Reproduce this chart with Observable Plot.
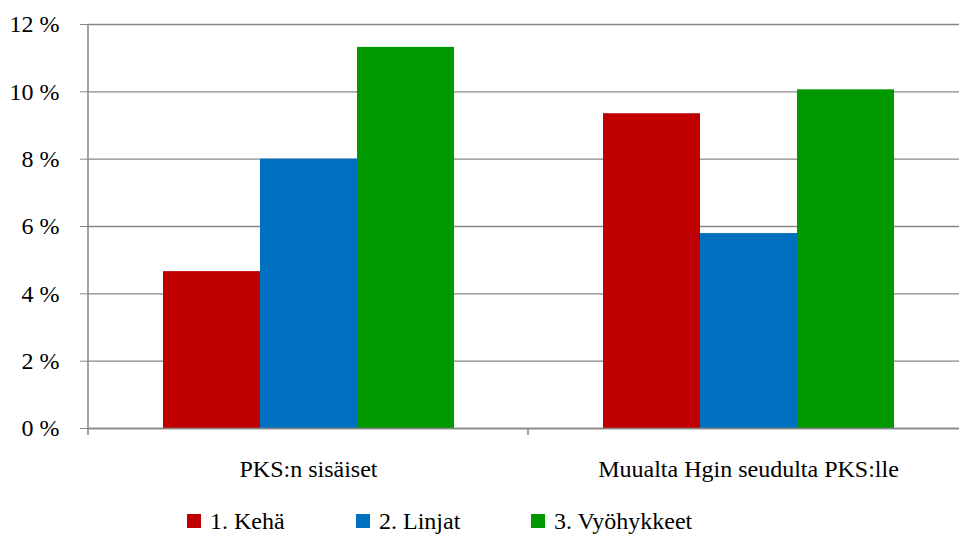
<!DOCTYPE html>
<html>
<head>
<meta charset="utf-8">
<script src="https://cdn.jsdelivr.net/npm/d3@7"></script>
<script src="https://cdn.jsdelivr.net/npm/@observablehq/plot@0.6"></script>
<style>
  html, body { margin: 0; padding: 0; background: #fff; overflow: hidden; }
  #chart svg { display: block; max-width: none !important; }
  #legend { height: 35px; padding-top: 9px; box-sizing: border-box; font-family: "Liberation Serif", "Times New Roman", "DejaVu Serif", "Noto Serif", FreeSerif, serif; font-size: 24px; line-height: 24px; color: #000; white-space: nowrap; }
  .item { display: inline-block; vertical-align: top; }
  .sw { display: inline-block; width: 14px; height: 14px; margin-right: 9px; vertical-align: 1px; }
</style>
</head>
<body>
<div id="chart"></div>
<div id="legend"></div>
<script>
const categories = ["PKS:n sisäiset", "Muualta Hgin seudulta PKS:lle"];
const series = ["1. Kehä", "2. Linjat", "3. Vyöhykkeet"];
const kehaValues = [4.66, 9.35];
const linjatValues = [8.0, 5.79];
const vyohykkeetValues = [11.32, 10.06];
const yTicks = [0, 2, 4, 6, 8, 10, 12];
const colors = ["#C00000", "#0070C0", "#009900"];

const seriesValues = [kehaValues, linjatValues, vyohykkeetValues];
const data = [];
categories.forEach((c, ci) => series.forEach((s, si) => data.push({cat: c, series: s, value: seriesValues[si][ci]})));

const axisColor = "#868686";
const serif = "'Liberation Serif', 'Times New Roman', 'DejaVu Serif', 'Noto Serif', FreeSerif, serif";

const plot = Plot.plot({
  width: 968,
  height: 500,
  marginLeft: 88,
  marginRight: 0,
  marginTop: 24,
  marginBottom: 72,
  style: {fontFamily: serif, fontSize: "24px", color: "#000", background: "#fff", maxWidth: "none"},
  fx: {domain: categories, padding: 0, label: null},
  x: {domain: series, paddingInner: 0, paddingOuter: 0.745, axis: null},
  y: {domain: [0, 12], label: null},
  color: {domain: series, range: colors},
  marks: [
    Plot.gridY(yTicks, {stroke: axisColor, strokeOpacity: 1, strokeWidth: 1.4}),
    Plot.barY(data, {fx: "cat", x: "series", y: "value", fill: "series"}),
    Plot.ruleY([0], {stroke: axisColor, strokeWidth: 1.5}),
    Plot.axisY(yTicks, {tickSize: 8, tickPadding: 21, tickFormat: d => `${d} %`, stroke: axisColor, strokeOpacity: 1, label: null}),
    Plot.axisFx({anchor: "bottom", tickSize: 0, tickPadding: 31, label: null})
  ]
});

// axis line and category boundary ticks, positioned through the plot's scales
const fx = plot.scale("fx");
const y = plot.scale("y");
const g = d3.select(plot).append("g").attr("stroke", axisColor).attr("stroke-width", 1.5);
const x0 = fx.apply(categories[0]);
g.append("line").attr("x1", x0).attr("x2", x0).attr("y1", y.apply(12)).attr("y2", y.apply(0) + 7);
categories.forEach(c => {
  const xb = fx.apply(c) + fx.bandwidth;
  g.append("line").attr("x1", xb).attr("x2", xb).attr("y1", y.apply(0)).attr("y2", y.apply(0) + 7);
});
d3.select(plot).selectAll("text").attr("font-family", serif);

document.getElementById("chart").append(plot);

const legend = d3.select("#legend").style("padding-left", "187px");
const widths = [169, 175, 200];
series.forEach((s, i) => {
  const it = legend.append("span").attr("class", "item").style("width", widths[i] + "px");
  it.append("span").attr("class", "sw").style("background", colors[i]);
  it.append("span").text(s);
});
</script>
</body>
</html>
